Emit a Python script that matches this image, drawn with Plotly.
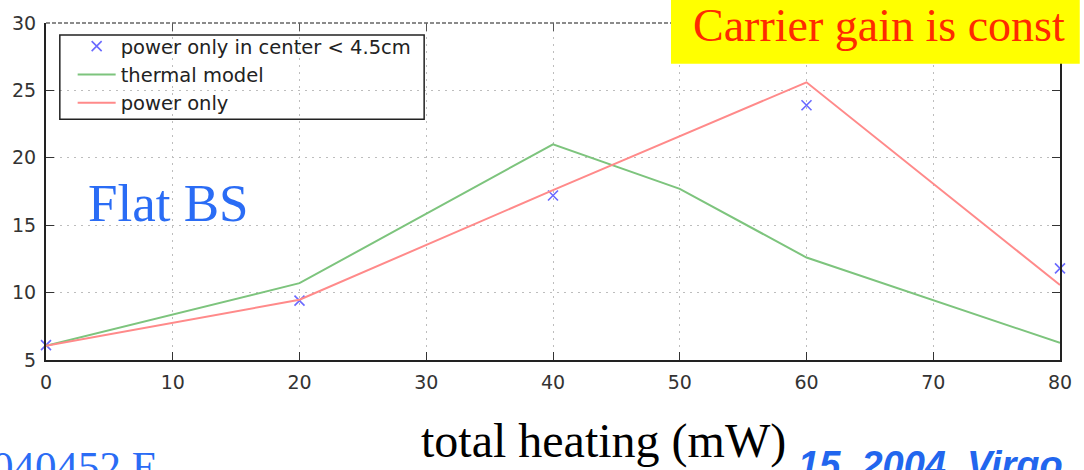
import plotly.graph_objects as go

# heating power (mW) and resulting gain for each model
heating_points = [0, 20, 40, 60, 80]
power_center = [6.1, 9.4, 17.2, 23.9, 11.8]

heating_thermal = [0, 20, 40, 50, 60, 70, 80]
thermal_model = [6.05, 10.7, 21.0, 17.7, 12.6, 9.45, 6.27]

heating_power = [0, 20, 40, 60, 80]
power_only = [6.05, 9.47, 17.6, 25.6, 10.56]

x_ticks = [0, 10, 20, 30, 40, 50, 60, 70, 80]
y_ticks = [5, 10, 15, 20, 25, 30]

W, H = 1084, 470
ML, MR, MT, MB = 43, 14, 20, 110
PW, PH = W - ML - MR, H - MT - MB


def px(x):
    return (x - ML) / PW


def py(y):
    return (H - MB - y) / PH


TICK_FONT = dict(family="DejaVu Sans", size=19, color="#333333")

fig = go.Figure()
fig.add_trace(go.Scatter(
    x=heating_points, y=power_center, mode="markers",
    name="power only in center < 4.5cm",
    marker=dict(symbol="x-thin", size=10, line=dict(color="#6a6aff", width=1.6)),
    cliponaxis=False,
))
fig.add_trace(go.Scatter(
    x=heating_thermal, y=thermal_model, mode="lines", name="thermal model",
    line=dict(color="#7dc47d", width=2),
))
fig.add_trace(go.Scatter(
    x=heating_power, y=power_only, mode="lines", name="power only",
    line=dict(color="#ff8a8a", width=2),
))

fig.update_layout(
    width=W, height=H,
    margin=dict(l=ML, r=MR, t=MT, b=MB),
    paper_bgcolor="white", plot_bgcolor="white",
    showlegend=True,
    legend=dict(
        x=px(70), y=py(24), xanchor="left", yanchor="top",
        bgcolor="rgba(0,0,0,0)", borderwidth=0,
        font=dict(family="DejaVu Sans", size=19.5, color="#222222"),
        itemwidth=38, tracegroupgap=0,
    ),
    xaxis=dict(
        range=[0, 80], tickvals=x_ticks, ticktext=[str(v) for v in x_ticks],
        showline=True, linecolor="#222222", linewidth=2,
        ticks="inside", ticklen=8, tickcolor="#333333",
        showgrid=True, gridcolor="#bdbdbd", griddash="2px,5px", gridwidth=1,
        zeroline=False, tickfont=TICK_FONT, ticklabelstandoff=4,
    ),
    xaxis2=dict(
        range=[0, 80], overlaying="x", side="top", tickvals=x_ticks,
        showticklabels=False, ticks="inside", ticklen=8, tickcolor="#555555",
        showline=False, showgrid=False, zeroline=False,
    ),
    yaxis=dict(
        range=[5, 30], tickvals=y_ticks, ticktext=[str(v) for v in y_ticks],
        showline=True, linecolor="#222222", linewidth=2, mirror="ticks",
        ticks="inside", ticklen=8, tickcolor="#333333",
        showgrid=True, gridcolor="#bdbdbd", griddash="2px,5px", gridwidth=1,
        zeroline=False, tickfont=TICK_FONT, ticklabelstandoff=4,
    ),
)

# invisible trace so the top tick axis is drawn
fig.add_trace(go.Scatter(x=[0, 80], y=[5, 5], xaxis="x2", mode="none",
                         showlegend=False, hoverinfo="skip"))

shapes = [
    # dashed top frame line
    dict(type="line", xref="paper", yref="paper", x0=0, x1=1, y0=1, y1=1,
         line=dict(color="#666666", width=1.5, dash="4px,2px")),
    # legend frame
    dict(type="rect", xref="paper", yref="paper",
         x0=px(57), x1=px(426), y0=py(117), y1=py(32),
         line=dict(color="#222222", width=1.5), fillcolor="rgba(0,0,0,0)"),
    # yellow banner
    dict(type="rect", xref="paper", yref="paper",
         x0=px(676), x1=px(1090), y0=py(61), y1=py(-5),
         line=dict(width=0), fillcolor="#ffff00", layer="above"),
]
fig.update_layout(shapes=shapes)

annotations = [
    dict(text="Carrier gain is const", xref="paper", yref="paper",
         x=px(696), y=py(-5), xanchor="left", yanchor="top", showarrow=False,
         font=dict(family="Liberation Serif", size=46, color="#ff2a00")),
    dict(text="Flat BS", xref="paper", yref="paper",
         x=px(84), y=py(170), xanchor="left", yanchor="top", showarrow=False,
         font=dict(family="Liberation Serif", size=53, color="#2a6cf5")),
    dict(text="total heating (mW)", xref="paper", yref="paper",
         x=px(421), y=py(412), xanchor="left", yanchor="top", showarrow=False,
         font=dict(family="Liberation Serif", size=48, color="#000000")),
    dict(text="040452 E", xref="paper", yref="paper",
         x=px(158), y=py(442), xanchor="right", yanchor="top", showarrow=False,
         font=dict(family="Liberation Serif", size=43, color="#2a6cf5")),
    dict(text="15, 2004, Virgo", xref="paper", yref="paper",
         x=px(803), y=py(443), xanchor="left", yanchor="top", showarrow=False,
         font=dict(family="Liberation Sans", size=38, color="#2266ee",
                   style="italic", weight="bold")),
]
fig.update_layout(annotations=annotations)

fig.write_html("out.html")
